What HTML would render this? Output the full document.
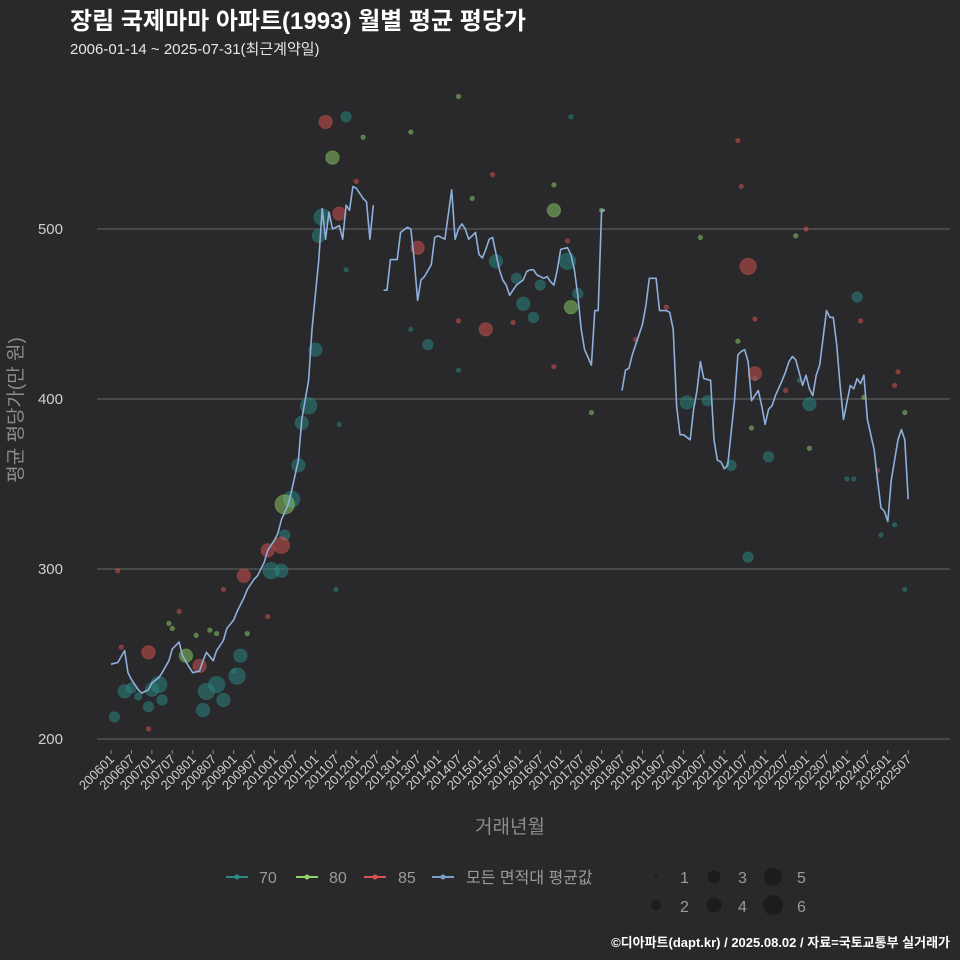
<!DOCTYPE html>
<html><head><meta charset="utf-8">
<style>
html,body{margin:0;padding:0;background:#29292b;overflow:hidden;width:960px;height:960px;}
svg{display:block;}
svg text{font-family:"Liberation Sans","Noto Sans CJK KR",sans-serif;}
</style></head>
<body>
<svg id="chart" width="960" height="960" viewBox="0 0 960 960" xmlns="http://www.w3.org/2000/svg">
<rect x="0" y="0" width="960" height="960" fill="#29292b"/>
<text x="70" y="29" fill="#ffffff" font-size="24" font-weight="bold">장림 국제마마 아파트(1993) 월별 평균 평당가</text>
<text x="70" y="54" fill="#e6e6e6" font-size="15">2006-01-14 ~ 2025-07-31(최근계약일)</text>
<g id="grid"></g>
<g id="points"></g>
<g id="line"></g>
<g id="xaxis"></g>
<text transform="translate(22,410) rotate(-90)" text-anchor="middle" fill="#8c8c8c" font-size="19" font-family="Noto Sans CJK KR, sans-serif">평균 평당가(만 원)</text>
<text x="510" y="833" text-anchor="middle" fill="#8c8c8c" font-size="19">거래년월</text>
<g font-size="16" fill="#9a9a9a">
  <g><line x1="226" y1="877" x2="248" y2="877" stroke="#2a8a86" stroke-width="2"/><circle cx="237" cy="877" r="2.5" fill="#2a8a86"/><text x="259" y="883">70</text></g>
  <g><line x1="296" y1="877" x2="318" y2="877" stroke="#8fd16a" stroke-width="2"/><circle cx="307" cy="877" r="2.5" fill="#8fd16a"/><text x="329" y="883">80</text></g>
  <g><line x1="364" y1="877" x2="386" y2="877" stroke="#d9534f" stroke-width="2"/><circle cx="375" cy="877" r="2.5" fill="#d9534f"/><text x="398" y="883">85</text></g>
  <g><line x1="432" y1="877" x2="454" y2="877" stroke="#7f9fc8" stroke-width="2"/><circle cx="443" cy="877" r="2.5" fill="#7f9fc8"/><text x="466" y="883">모든 면적대 평균값</text></g>
  <g fill="#1c1c1e">
    <circle cx="656" cy="877" r="1.8"/><text x="680" y="883" fill="#9a9a9a">1</text>
    <circle cx="656" cy="905" r="5"/><text x="680" y="912" fill="#9a9a9a">2</text>
    <circle cx="714" cy="877" r="6.5"/><text x="738" y="883" fill="#9a9a9a">3</text>
    <circle cx="714" cy="905" r="7.5"/><text x="738" y="912" fill="#9a9a9a">4</text>
    <circle cx="773" cy="877" r="9"/><text x="797" y="883" fill="#9a9a9a">5</text>
    <circle cx="773" cy="905" r="10"/><text x="797" y="912" fill="#9a9a9a">6</text>
  </g>
</g>
<text x="950" y="947" text-anchor="end" fill="#ffffff" font-size="13" font-weight="bold">©디아파트(dapt.kr) / 2025.08.02 / 자료=국토교통부 실거래가</text>
</svg>
<script>
// y ticks
const yTicks = [200, 300, 400, 500];
// average line: months since 2006-01, values (null = gap)
const lineMonths = [0,2,4,5,6,8,9,11,12,14,15,17,18,20,21,23,24,26,27,28,30,31,33,34,36,37,39,40,42,43,45,46,48,49,50,52,53,55,56,58,59,61,62,63,64,65,67,68,69,70,71,72,74,75,76,77,
79,
80,81,82,84,85,87,88,89,90,91,92,94,95,96,97,98,100,101,102,103,104,105,107,108,109,110,111,112,114,115,116,117,118,119,121,122,123,124,125,127,128,129,130,131,132,134,135,136,137,138,139,141,142,143,144,145,
148,
150,151,152,153,154,156,157,158,159,160,161,163,164,165,166,167,168,170,171,172,173,174,176,177,178,179,180,181,183,184,185,186,187,188,190,191,192,193,194,195,197,198,199,200,201,203,204,205,206,207,208,210,211,212,213,214,215,217,218,219,220,221,222,224,225,226,227,228,229,230,231,232,233,234];
const lineValues = [244,245,252,239,235,229,227,229,233,236,239,246,253,257,249,242,239,240,246,251,246,252,258,265,270,275,283,288,294,296,304,311,317,321,329,338,346,364,388,411,441,482,512,494,510,500,502,494,514,511,525,524,518,516,494,514,
null,
464,464,482,482,498,501,500,482,458,470,472,479,495,496,495,494,523,494,500,503,500,494,498,485,483,488,494,495,476,470,467,461,464,467,470,475,476,476,473,471,472,469,467,476,488,489,485,476,461,441,429,420,452,452,511,511,
null,
405,417,418,426,432,444,455,471,471,471,452,452,451,441,396,379,379,376,394,405,422,412,411,376,364,363,359,361,399,426,428,429,422,399,405,396,385,394,396,402,411,416,422,425,423,408,414,406,402,414,420,452,448,448,432,408,388,408,406,412,409,414,388,370,352,336,334,328,352,364,376,382,376,341];
// scatter: series, month, value, count
const ptSeries = ["70","70","70","70","70","70","70","70","70","70","70","70","70","70","70","70","70","70","70","70","70","70","70","70","70","70","70","70","70","70","70","70","70","70","70","70","70","70","70","70",
"70","70","70","70","70","70","70","70","70","70","70","70","70","70",
"80","80","80","80","80","80","80","80","80","80","80","80","80","80","80","80","80","80","80","80","80","80","80","80","80",
"85","85","85","85","85","85","85","85","85","85","85","85","85","85","85","85","85","85","85","85","85","85","85","85","85","85","85","85","85","85","85","85","85","85"];
const ptMonths = [1,4,6,11,12,14,15,27,28,31,33,37,38,47,50,51,53,55,56,58,60,61,62,69,93,113,119,121,124,126,134,137,169,175,182,187,193,205,219,8,
67,66,69,88,102,135,189,216,218,226,230,233,202,36,
51,65,130,135,22,88,102,74,106,18,25,29,31,130,144,141,173,201,233,221,205,188,184,17,40,
11,26,39,46,50,63,67,90,110,187,189,2,3,20,11,33,46,72,112,102,118,130,134,184,185,204,220,225,231,230,154,163,189,198];
const ptValues = [213,228,230,219,229,232,223,217,228,232,223,237,249,299,299,320,341,361,386,396,429,496,507,566,432,481,471,456,448,467,481,462,398,399,361,307,366,397,460,225,
385,288,476,441,417,566,412,353,353,320,326,288,411,240,
338,542,511,454,249,557,578,554,518,265,261,264,262,526,511,392,495,496,392,401,371,383,434,268,262,
251,243,296,311,314,563,509,489,441,478,415,299,254,275,206,288,272,528,532,446,445,419,493,552,525,500,446,358,416,408,435,454,447,405];
const ptCounts = [3,4,3,3,4,5,3,4,5,5,4,5,4,5,4,3,5,4,4,5,4,4,5,3,3,4,3,4,3,3,5,3,4,3,3,3,3,4,3,2,
1,1,1,1,1,1,1,1,1,1,1,1,1,1,
6,4,4,4,4,1,1,1,1,1,1,1,1,1,1,1,1,1,1,1,1,1,1,1,1,
4,4,4,4,5,4,4,4,4,5,4,1,1,1,1,1,1,1,1,1,1,1,1,1,1,1,1,1,1,1,1,1,1,1];
const xTickLabels = [];
for (let y = 2006; y <= 2025; y++) { xTickLabels.push(y + "01"); xTickLabels.push(y + "07"); }

const NS = "http://www.w3.org/2000/svg";
const X0 = 111, DX = 3.407;
const xs = m => X0 + DX * m;
const ys = v => 739 - 1.7 * (v - 200);
const colors = {"70":"#2a8a86","80":"#8fd16a","85":"#d9534f"};
const radius = c => 2.2 + 1.5 * (c - 1);
function mk(tag, attrs, parent) { const e = document.createElementNS(NS, tag); for (const k in attrs) e.setAttribute(k, attrs[k]); parent.appendChild(e); return e; }

const grid = document.getElementById("grid");
yTicks.forEach(t => {
  const l = mk("line", {x1: 97, x2: 950, y1: ys(t), y2: ys(t), stroke: "#666", "stroke-width": 1}, grid);
  
  
  const tx = mk("text", {x: 63, y: ys(t) + 5, "text-anchor": "end", fill: "#cfcfcf", "font-size": 15}, grid);
  tx.textContent = t;
  
  
});

const xa = document.getElementById("xaxis");
xTickLabels.forEach((lab, i) => {
  const x = xs(i * 6);
  const tk = mk("line", {x1: x, x2: x, y1: 750, y2: 754, stroke: "#888", "stroke-width": 1}, xa);
  
  
  const tx = mk("text", {transform: `translate(${x + 4},${760}) rotate(-45)`, "text-anchor": "end", fill: "#cfcfcf", "font-size": 13}, xa);
  tx.textContent = lab;
  
  
});

const pg = document.getElementById("points");
ptSeries.forEach((s, i) => {
  const c = mk("circle", {cx: xs(ptMonths[i]), cy: ys(ptValues[i]), r: radius(ptCounts[i]), fill: colors[s], "fill-opacity": 0.5, stroke: colors[s], "stroke-opacity": 0.35}, pg);
  
  
});

const lg = document.getElementById("line");
let segs = [], cur = [];
lineMonths.forEach((m, i) => {
  if (lineValues[i] === null) { if (cur.length) segs.push(cur); cur = []; }
  else cur.push(xs(m).toFixed(1) + "," + ys(lineValues[i]).toFixed(1));
});
if (cur.length) segs.push(cur);
segs.forEach(sg => {
  const p = mk("polyline", {points: sg.join(" "), fill: "none", stroke: "#8fb0dc", "stroke-width": 1.6, "stroke-linejoin": "round"}, lg);
  
  
});
</script>
</body></html>
